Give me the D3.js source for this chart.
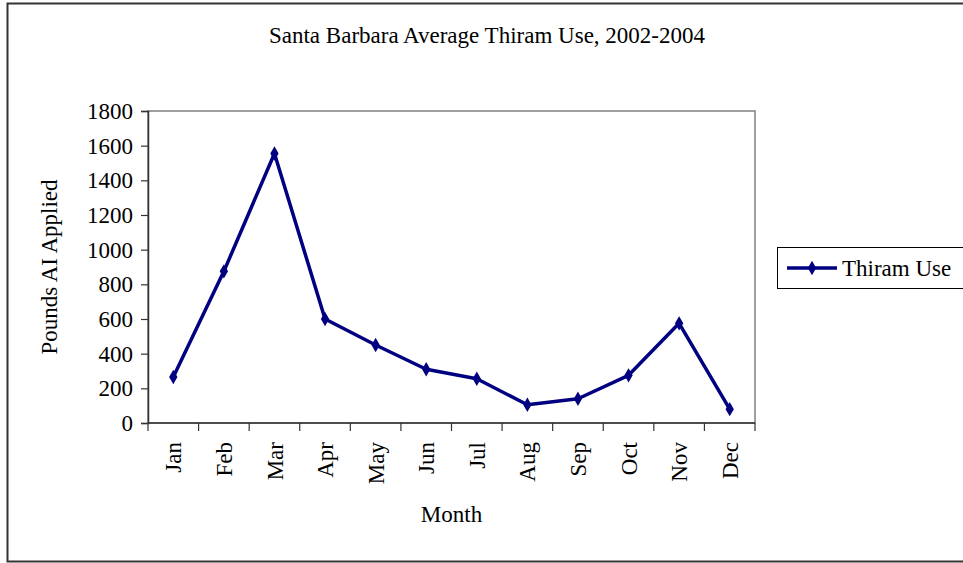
<!DOCTYPE html>
<html><head><meta charset="utf-8">
<script src="https://cdn.jsdelivr.net/npm/d3@7"></script>
<style>body{margin:0;background:#fff}svg{display:block}svg text{font-family:"Liberation Serif","Times New Roman",serif !important;fill:#000}</style>
</head><body><svg id="c" width="963" height="563"></svg>
<script>
const months = ["Jan","Feb","Mar","Apr","May","Jun","Jul","Aug","Sep","Oct","Nov","Dec"];
const thiramUse = [265, 875, 1555, 600, 450, 310, 255, 105, 140, 275, 575, 80];
const yTicks = [0,200,400,600,800,1000,1200,1400,1600,1800];
const seriesName = "Thiram Use";
const titleText = "Santa Barbara Average Thiram Use, 2002-2004";
const xTitle = "Month", yTitle = "Pounds AI Applied";

const svg = d3.select("#c");
const L = 148, R = 755, T = 111, B = 423;
const fs = 23;

// outer chart border
svg.append("rect").attr("x",7.5).attr("y",3.5).attr("width",1000).attr("height",558)
  .attr("fill","none").attr("stroke","#333").attr("stroke-width",2);

const x = d3.scaleBand().domain(months).range([L,R]).padding(0);
const y = d3.scaleLinear().domain([0,1800]).range([B,T]);

// plot area border (top/right gray)
svg.append("rect").attr("x",L).attr("y",T).attr("width",R-L).attr("height",B-T)
  .attr("fill","none").attr("stroke","#808080").attr("stroke-width",1.5);

// y axis
const ya = svg.append("g").attr("transform",`translate(${L},0)`)
  .call(d3.axisLeft(y).tickValues(yTicks).tickSize(7).tickPadding(8).tickFormat(d3.format("d")));
ya.attr("font-family",null);
ya.select(".domain").attr("stroke","#333").attr("stroke-width",1.5);
ya.selectAll(".tick line").attr("stroke","#333").attr("stroke-width",1.2);
ya.selectAll(".tick text").attr("font-size",fs).style("font-family","'Liberation Serif', serif").attr("fill","#000");

// x axis: ticks at category boundaries
const xa = svg.append("g").attr("transform",`translate(0,${B})`);
xa.append("line").attr("x1",L).attr("x2",R).attr("y1",0).attr("y2",0).attr("stroke","#333").attr("stroke-width",1.5);
const bounds = months.map(m=>x(m)).concat([x(months[months.length-1])+x.bandwidth()]);
xa.selectAll("line.tk").data(bounds).enter().append("line").attr("class","tk")
  .attr("x1",d=>d).attr("x2",d=>d).attr("y1",0).attr("y2",8).attr("stroke","#333").attr("stroke-width",1.2);
xa.selectAll("text.ml").data(months).enter().append("text").attr("class","ml")
  .attr("transform",d=>`translate(${x(d)+x.bandwidth()/2},19) rotate(-90)`)
  .attr("text-anchor","end").attr("dy","0.35em").attr("font-size",fs).text(d=>d);

// line
const line = d3.line().x((d,i)=>x(months[i])+x.bandwidth()/2).y(d=>y(d));
svg.append("path").datum(thiramUse).attr("d",line).attr("fill","none")
  .attr("stroke","#000080").attr("stroke-width",3.5).attr("stroke-linejoin","round");
const diamond = d3.symbol().type(d3.symbolDiamond).size(60);
svg.selectAll("path.mk").data(thiramUse).enter().append("path").attr("class","mk")
  .attr("d",diamond).attr("fill","#000080")
  .attr("transform",(d,i)=>`translate(${x(months[i])+x.bandwidth()/2},${y(d)})`);

// titles
svg.append("text").attr("x",487).attr("y",43).attr("text-anchor","middle").attr("font-size",fs).text(titleText);
svg.append("text").attr("x",(L+R)/2).attr("y",522).attr("text-anchor","middle").attr("font-size",fs).text(xTitle);
svg.append("text").attr("transform",`translate(57,${(T+B)/2}) rotate(-90)`).attr("text-anchor","middle").attr("font-size",fs).text(yTitle);

// legend
const lg = svg.append("g");
lg.append("rect").attr("x",777.5).attr("y",247.5).attr("width",200).attr("height",41)
  .attr("fill","#fff").attr("stroke","#000").attr("stroke-width",1);
lg.append("line").attr("x1",787).attr("x2",837).attr("y1",268).attr("y2",268).attr("stroke","#000080").attr("stroke-width",3.5);
lg.append("path").attr("d",diamond).attr("fill","#000080").attr("transform","translate(812,268)");
lg.append("text").attr("x",842).attr("y",268).attr("dy","0.35em").attr("font-size",fs).text(seriesName);
</script></body></html>
